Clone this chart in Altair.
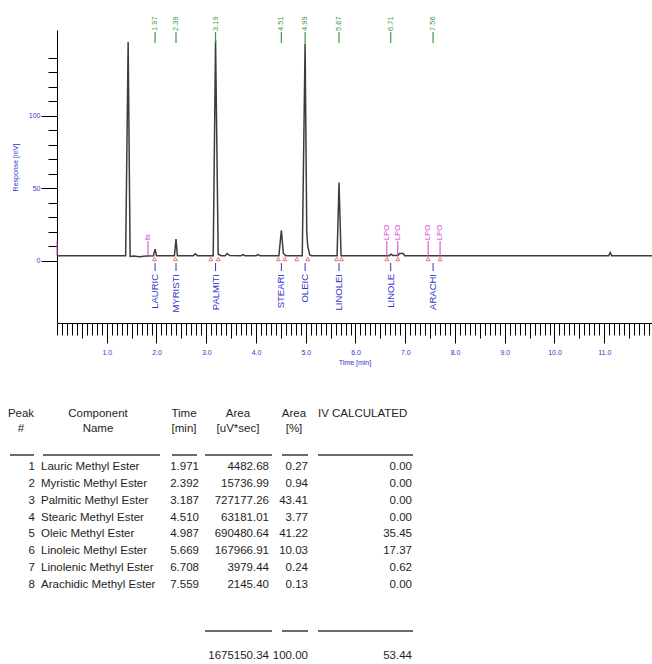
import altair as alt
import pandas as pd

# ---------------- values ----------------
# chromatogram trace: time [min] and response [mV]
trace_t = [0.00, 1.38, 1.43, 1.47, 1.55, 1.65, 1.80, 1.94, 1.971, 2.00,
           2.36, 2.392, 2.42, 2.74, 2.78, 2.82, 3.14, 3.187, 3.24, 3.30,
           3.38, 3.42, 3.47, 3.70, 3.74, 3.78, 4.00, 4.04, 4.08, 4.46,
           4.510, 4.55, 4.60, 4.93, 4.987, 5.02, 5.04, 5.08, 5.12, 5.63,
           5.669, 5.71, 6.68, 6.708, 6.75, 6.86, 6.88, 6.96, 6.99, 11.09,
           11.12, 11.15, 11.96]
trace_v = [3.5, 3.5, 151.0, 3.0, 3.2, 2.8, 3.3, 3.5, 8.0, 3.5,
           3.5, 15.0, 3.5, 3.5, 4.8, 3.5, 3.5, 152.0, 4.5, 3.5,
           3.5, 5.0, 3.6, 3.5, 4.3, 3.5, 3.5, 4.3, 3.5, 3.5,
           21.0, 5.0, 3.5, 3.5, 150.0, 20.0, 10.0, 4.0, 3.5, 3.5,
           54.0, 3.5, 3.5, 4.5, 3.6, 3.6, 5.0, 5.0, 3.5, 3.5,
           5.5, 3.5, 3.5]

peak_no = [1, 2, 3, 4, 5, 6, 7, 8]
comp_names = ["Lauric Methyl Ester", "Myristic Methyl Ester", "Palmitic Methyl Ester",
              "Stearic Methyl Ester", "Oleic Methyl Ester", "Linoleic Methyl Ester",
              "Linolenic Methyl Ester", "Arachidic Methyl Ester"]
ret_time = [1.971, 2.392, 3.187, 4.510, 4.987, 5.669, 6.708, 7.559]
area_uv = [4482.68, 15736.99, 727177.26, 63181.01, 690480.64, 167966.91, 3979.44, 2145.40]
area_pct = [0.27, 0.94, 43.41, 3.77, 41.22, 10.03, 0.24, 0.13]
iv_calc = [0.00, 0.00, 0.00, 0.00, 35.45, 17.37, 0.62, 0.00]
total_area = "1675150.34"
total_pct = "100.00"
total_iv = "53.44"

peak_tags = ["LAURIC", "MYRISTI", "PALMITI", "STEARI", "OLEIC", "LINOLEI", "LINOLE", "ARACHI"]
peak_marks = ["1.97", "2.39", "3.19", "4.51", "4.99", "5.67", "6.71", "7.56"]
bound_t = [1.96, 2.38, 3.09, 3.24, 4.45, 4.58, 4.82, 5.04, 5.62, 5.72, 6.63, 6.85, 7.46, 7.70]
event_t = [0.0, 1.83, 6.63, 6.85, 7.46, 7.70]
event_txt = ["", "ts", "LPO", "LPO", "LPO", "LPO"]

header_top = ["Peak", "Component", "Time", "Area", "Area", "IV CALCULATED"]
header_bot = ["#", "Name", "[min]", "[uV*sec]", "[%]", ""]

x_major = [1, 2, 3, 4, 5, 6, 7, 8, 9, 10, 11]
x_half = [0.5, 1.5, 2.5, 3.5, 4.5, 5.5, 6.5, 7.5, 8.5, 9.5, 10.5, 11.5]
x_minor = [round(0.1 * i, 1) for i in range(0, 120)]
y_major = [0, 50, 100]
y_minor = [0, 10, 20, 30, 40, 50, 60, 70, 80, 90, 100, 110, 120, 130, 140]

# ---------------- layout ----------------
OX, OY, W, H = 57, 30, 595, 293
def px(x):
    return x - OX
def py(y):
    return y - OY

BLUE = "#3535c8"
GREEN = "#3a9a4a"
MAG = "#d23cd2"
RED = "#e04040"
TC = "#1e1e1e"
AFONT = "Liberation Sans"
TFONT = "Liberation Sans"
TS = 11.5

xs = alt.Scale(domain=[0, 11.96], nice=False, zero=False)
ys = alt.Scale(domain=[-43, 159.3], nice=False, zero=False)

trace = pd.DataFrame({"t": trace_t, "v": trace_v})
peaks = pd.DataFrame({"t": ret_time, "tag": peak_tags, "mark": peak_marks})
bounds = pd.DataFrame({"t": bound_t})
events = pd.DataFrame({"t": event_t, "txt": event_txt})
one = pd.DataFrame({"k": [0]})

line = alt.Chart(trace).mark_line(color="#3c3c3c", strokeWidth=1.5).encode(
    x=alt.X("t:Q", scale=xs, axis=alt.Axis(
        orient="bottom", values=x_major, format=".1f", tickSize=20, tickColor="black",
        domainColor="black", labelColor=BLUE, labelFontSize=7, labelFont=AFONT,
        labelPadding=5, title="Time [min]", titleColor=BLUE, titleFontSize=7,
        titleFont=AFONT, titleFontWeight="normal", titlePadding=3, grid=False)),
    y=alt.Y("v:Q", scale=ys, axis=alt.Axis(
        orient="left", values=y_major, tickSize=16, tickColor="black", domainColor="black",
        labelColor=BLUE, labelFontSize=7, labelFont=AFONT, labelPadding=1, grid=False,
        title="Response [mV]", titleColor=BLUE, titleFontSize=7, titleFont=AFONT,
        titleFontWeight="normal", titleAngle=270, titleX=-42, titleY=137,
        titleAlign="center", titleBaseline="middle")),
)

minor = alt.Chart(trace).mark_line(opacity=0).encode(
    x=alt.X("t:Q", scale=xs, axis=alt.Axis(
        orient="bottom", values=x_minor, tickSize=12, tickColor="black", labels=False,
        domain=False, grid=False, title=None)),
    y=alt.Y("v:Q", scale=ys, axis=alt.Axis(
        orient="left", values=y_minor, tickSize=9, tickColor="black", labels=False,
        domain=False, grid=False, title=None)),
)

half = alt.Chart(trace).mark_line(opacity=0).encode(
    x=alt.X("t:Q", scale=xs, axis=alt.Axis(
        orient="bottom", values=x_half, tickSize=15, tickColor="black", labels=False,
        domain=False, grid=False, title=None)),
    y=alt.Y("v:Q", scale=ys, axis=None),
)

green_txt = alt.Chart(peaks).mark_text(angle=270, align="left", baseline="middle",
                                        fontSize=7.5, font=AFONT, color=GREEN).encode(
    x=alt.X("t:Q", scale=xs, axis=None), y=alt.value(py(31)), text="mark:N")
green_rule = alt.Chart(peaks).mark_rule(color=GREEN, strokeWidth=1.2).encode(
    x=alt.X("t:Q", scale=xs, axis=None), y=alt.value(py(32)), y2=alt.value(py(43)))

blue_txt = alt.Chart(peaks).mark_text(angle=270, align="right", baseline="middle",
                                       fontSize=9.5, font=AFONT, color=BLUE).encode(
    x=alt.X("t:Q", scale=xs, axis=None), y=alt.value(py(274)), text="tag:N")
blue_rule = alt.Chart(peaks).mark_rule(color=BLUE, strokeWidth=1).encode(
    x=alt.X("t:Q", scale=xs, axis=None), y=alt.value(py(263)), y2=alt.value(py(271)))

red_pts = alt.Chart(bounds).mark_point(shape="triangle-up", filled=False, color=RED,
                                       size=16, strokeWidth=1).encode(
    x=alt.X("t:Q", scale=xs, axis=None), y=alt.value(py(259)))

mag_rule = alt.Chart(events).mark_rule(color=MAG, strokeWidth=1).encode(
    x=alt.X("t:Q", scale=xs, axis=None), y=alt.value(py(241)), y2=alt.value(py(256)))
mag_txt = alt.Chart(events).mark_text(angle=270, align="left", baseline="middle",
                                      fontSize=7.5, font=AFONT, color=MAG).encode(
    x=alt.X("t:Q", scale=xs, axis=None), y=alt.value(py(240)), text="txt:N")

# ---------------- table ----------------
tbl = pd.DataFrame({"row": peak_no, "name": comp_names, "time": ret_time,
                    "area": area_uv, "pct": area_pct, "iv": iv_calc})
row_y = alt.Y("row:Q", scale=alt.Scale(domain=[1, 8], range=[py(467), py(585)]), axis=None)

def col(field, xabs, align, fmt):
    return alt.Chart(tbl).mark_text(align=align, baseline="middle", font=TFONT,
                                    fontSize=TS, color=TC).encode(
        x=alt.value(px(xabs)), y=row_y, text=alt.Text(field, format=fmt) if fmt else alt.Text(field))

table_layers = [
    col("row:Q", 35, "right", "d"),
    col("name:N", 41, "left", None),
    col("time:Q", 199, "right", ".3f"),
    col("area:Q", 269, "right", ".2f"),
    col("pct:Q", 308, "right", ".2f"),
    col("iv:Q", 412, "right", ".2f"),
]

head_x = [(21, "center"), (98, "center"), (184, "center"), (238, "center"), (294, "center"), (318, "left")]
for (hx, al), t1, t2 in zip(head_x, header_top, header_bot):
    table_layers.append(alt.Chart(one).mark_text(text=t1, align=al, baseline="middle", font=TFONT,
                                                 fontSize=TS, color=TC).encode(
        x=alt.value(px(hx)), y=alt.value(py(414))))
    if t2:
        table_layers.append(alt.Chart(one).mark_text(text=t2, align=al, baseline="middle", font=TFONT,
                                                     fontSize=TS, color=TC).encode(
            x=alt.value(px(hx)), y=alt.value(py(429))))

head_lines = [(10, 34), (43, 160), (172, 197), (205, 272), (282, 308), (318, 413)]
for a, b in head_lines:
    table_layers.append(alt.Chart(one).mark_rule(color="#6a6a6a", strokeWidth=2).encode(
        x=alt.value(px(a)), x2=alt.value(px(b)), y=alt.value(py(455))))
for a, b in head_lines[3:]:
    table_layers.append(alt.Chart(one).mark_rule(color="#6a6a6a", strokeWidth=2).encode(
        x=alt.value(px(a)), x2=alt.value(px(b)), y=alt.value(py(631))))

for val, xr in zip([total_area, total_pct, total_iv], [269, 308, 412]):
    table_layers.append(alt.Chart(one).mark_text(text=val, align="right", baseline="middle",
                                                 font=TFONT, fontSize=TS, color=TC).encode(
        x=alt.value(px(xr)), y=alt.value(py(656))))

chart = alt.layer(
    minor, half, line, green_rule, green_txt, blue_rule, blue_txt, red_pts, mag_rule, mag_txt,
    *table_layers
).resolve_scale(y="independent").resolve_axis(x="independent", y="independent").properties(
    width=W, height=H,
    padding={"left": OX, "top": OY, "right": 652 - OX - W, "bottom": 664 - OY - H},
    autosize=alt.AutoSizeParams(type="none"),
    background="white",
).configure_view(stroke=None).configure_axis(grid=False)

chart.save("out.html", embed_options={"renderer": "svg", "actions": False})
